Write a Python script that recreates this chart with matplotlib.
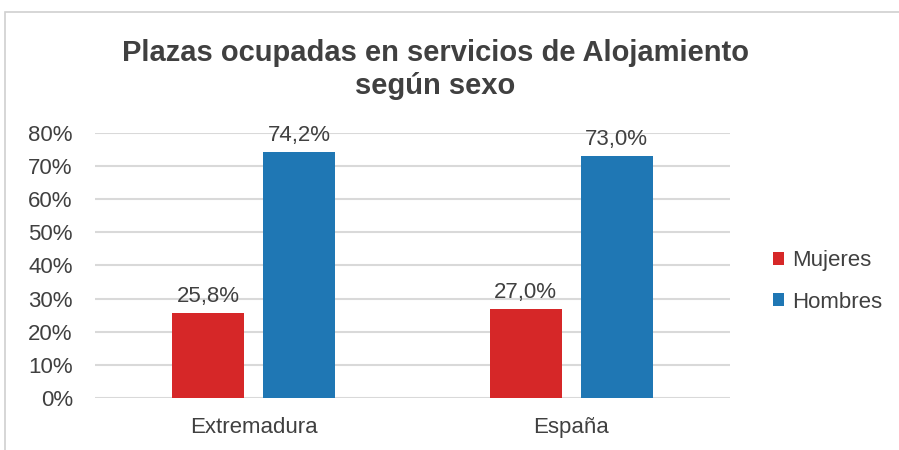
import matplotlib.pyplot as plt
import numpy as np
from matplotlib.patches import Rectangle

categories = ['Extremadura', 'España']
mujeres = [25.8, 27.0]
hombres = [74.2, 73.0]
series_names = ['Mujeres', 'Hombres']
yticks = [0, 10, 20, 30, 40, 50, 60, 70, 80]

plt.rcParams['font.family'] = ['Liberation Sans', 'DejaVu Sans']
txt = '#404040'

fig = plt.figure(figsize=(8.99, 4.5), dpi=100)
ax = fig.add_axes([0.1057, 0.1156, 0.7063, 0.589])

# outer chart frame
fig.patches.append(Rectangle((5 / 899, -0.1), 1.2, 1 - 12 / 450 + 0.1,
                             transform=fig.transFigure, fill=False,
                             edgecolor='#d0d0d0', linewidth=1.2))

x = np.arange(len(categories))
w = 0.227
off = 0.143
b1 = ax.bar(x - off, mujeres, w, color='#d62728', label=series_names[0], zorder=3)
b2 = ax.bar(x + off, hombres, w, color='#1f77b4', label=series_names[1], zorder=3)

for bars in (b1, b2):
    for r in bars:
        v = r.get_height()
        ax.text(r.get_x() + r.get_width() / 2, v + 3.3, ('%.1f%%' % v).replace('.', ','),
                ha='center', va='baseline', fontsize=16, color=txt)

ax.set_xlim(-0.5, 1.5)
ax.set_ylim(0, 80)
ax.set_yticks(yticks)
ax.set_yticklabels(['%d%%' % t for t in yticks], fontsize=16, color=txt)
ax.set_xticks(x)
ax.set_xticklabels(categories, fontsize=16, color=txt)
ax.tick_params(length=0, axis='y', pad=16)
ax.tick_params(length=0, axis='x', pad=14)
ax.grid(axis='y', color='#d9d9d9', linewidth=1.5, zorder=0)
for s in ax.spines.values():
    s.set_visible(False)

fig.text(0.484, 0.846, 'Plazas ocupadas en servicios de Alojamiento\nsegún sexo',
         ha='center', va='center', fontsize=21, fontweight='bold', color=txt,
         linespacing=1.22)

ax.legend(loc='center left', bbox_to_anchor=(1.036, 0.44), frameon=False,
          fontsize=16, handlelength=0.5, handleheight=0.5, handletextpad=0.35,
          labelcolor=txt, labelspacing=0.92)

fig.savefig('out.png', dpi=100)
